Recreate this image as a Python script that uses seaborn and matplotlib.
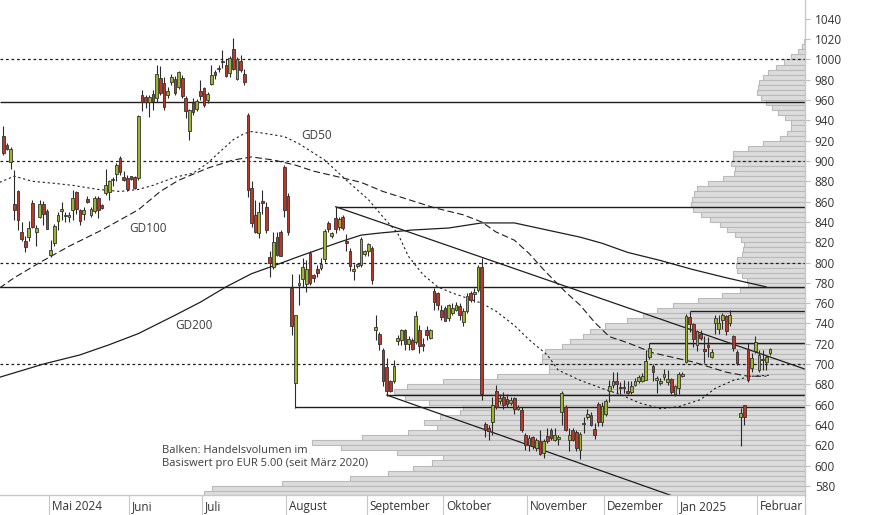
import numpy as np
import seaborn as sns
import matplotlib.pyplot as plt
from matplotlib.transforms import ScaledTranslation

# daily candles, trading-day index 0 = mid April 2024
opens = [
    925, 916, 899, 858, 870, 830, 821, 825, 859, 830,
    845, 858, 851, 807, 819, 841, 851, 846, 845, 852,
    869, 852, 848, 863, 847, 851, 864, 857, 868, 869,
    881, 887, 903, 884, 883, 885, 884, 883, 965, 963,
    958, 966, 962, 982, 977, 965, 978, 981, 973, 982,
    962, 930, 957, 951, 969, 972, 960, 976, 988, 991,
    998, 995, 987, 1010, 981, 999, 986, 945, 873, 847,
    829, 861, 855, 805, 796, 825, 830, 894, 866, 775,
    681, 778, 784, 779, 809, 788, 794, 795, 803, 839,
    826, 844, 835, 845, 821, 811, 792, 797, 798, 808,
    811, 814, 734, 730, 714, 697, 683, 683, 723, 724,
    734, 720, 724, 722, 734, 720, 734, 726, 772, 770,
    753, 755, 745, 750, 753, 757, 741, 752, 770, 769,
    773, 796, 641, 637, 643, 673, 664, 668, 666, 662,
    667, 656, 655, 630, 620, 628, 617, 624, 612, 629,
    635, 625, 626, 653, 658, 625, 635, 633, 615, 641,
    648, 650, 636, 661, 643, 651, 673, 679, 683, 677,
    676, 673, 672, 679, 683, 683, 684, 707, 698, 684,
    681, 687, 682, 685, 670, 676, 688, 702, 746, 739,
    719, 730, 715, 719, 707, 740, 735, 743, 747, 740,
    728, 712, 648, 660, 715, 696, 713, 694, 705, 702,
    711]
highs = [
    934, 918, 914, 891, 871, 840, 826, 841, 862, 837,
    862, 861, 853, 822, 838, 850, 860, 850, 850, 871,
    870, 853, 855, 866, 855, 866, 866, 858, 892, 881,
    884, 898, 905, 890, 886, 885, 885, 945, 970, 965,
    965, 970, 995, 994, 983, 973, 986, 984, 989, 985,
    964, 951, 962, 961, 980, 973, 968, 995, 990, 995,
    1009, 1000, 1003, 1021, 1002, 1004, 991, 947, 880, 862,
    860, 871, 860, 811, 830, 830, 832, 896, 868, 789,
    748, 789, 804, 802, 811, 789, 798, 804, 833, 841,
    830, 855, 845, 847, 828, 814, 799, 800, 825, 812,
    819, 816, 748, 732, 716, 706, 684, 704, 729, 735,
    735, 728, 726, 752, 738, 726, 737, 735, 775, 771,
    758, 757, 759, 760, 761, 760, 755, 770, 772, 775,
    798, 804, 643, 640, 668, 679, 670, 672, 670, 668,
    668, 660, 658, 632, 630, 629, 627, 635, 626, 637,
    637, 637, 630, 673, 660, 637, 637, 635, 633, 648,
    656, 653, 642, 663, 663, 666, 684, 692, 692, 682,
    684, 683, 683, 686, 689, 691, 714, 721, 700, 688,
    686, 695, 694, 686, 679, 692, 692, 749, 752, 740,
    734, 734, 728, 727, 715, 748, 748, 750, 748, 753,
    729, 714, 657, 660, 721, 711, 728, 714, 714, 709,
    716]
lows = [
    906, 911, 892, 842, 832, 821, 810, 821, 834, 816,
    844, 837, 833, 805, 816, 832, 842, 840, 840, 842,
    848, 837, 842, 859, 845, 849, 844, 853, 867, 862,
    875, 880, 886, 880, 870, 881, 872, 881, 949, 952,
    943, 950, 958, 965, 950, 962, 975, 965, 971, 962,
    942, 921, 945, 949, 960, 953, 957, 975, 981, 988,
    992, 983, 983, 990, 980, 988, 975, 865, 835, 829,
    824, 848, 829, 786, 794, 806, 806, 845, 827, 729,
    657, 758, 776, 771, 778, 781, 786, 793, 801, 830,
    824, 829, 832, 832, 811, 792, 783, 795, 796, 806,
    806, 779, 724, 714, 678, 669, 672, 681, 719, 719,
    714, 714, 714, 720, 711, 713, 724, 725, 753, 753,
    743, 742, 742, 748, 752, 743, 737, 750, 761, 761,
    771, 665, 628, 625, 630, 656, 661, 656, 658, 660,
    651, 655, 633, 615, 614, 616, 614, 610, 607, 622,
    625, 624, 620, 640, 634, 614, 624, 614, 606, 632,
    646, 639, 626, 639, 639, 649, 663, 676, 671, 670,
    671, 670, 670, 678, 681, 682, 684, 705, 683, 671,
    679, 684, 679, 670, 669, 670, 687, 701, 732, 717,
    713, 724, 701, 707, 706, 730, 730, 735, 729, 737,
    713, 699, 619, 640, 682, 692, 711, 692, 694, 694,
    709]
closes = [
    908, 912, 912, 852, 842, 823, 815, 834, 835, 834,
    858, 848, 833, 812, 836, 847, 853, 847, 847, 864,
    853, 841, 852, 860, 853, 864, 852, 854, 876, 880,
    882, 896, 889, 881, 872, 882, 873, 944, 958, 958,
    963, 959, 986, 967, 953, 969, 983, 967, 988, 964,
    949, 950, 948, 959, 964, 955, 966, 985, 985, 992,
    999, 984, 1001, 991, 1000, 990, 978, 871, 839, 830,
    850, 859, 832, 800, 820, 807, 806, 852, 830, 737,
    748, 780, 796, 794, 780, 785, 790, 799, 831, 833,
    829, 833, 843, 834, 819, 797, 794, 799, 823, 811,
    818, 783, 736, 720, 683, 673, 673, 698, 726, 734,
    720, 725, 715, 747, 718, 718, 729, 734, 761, 758,
    746, 742, 758, 755, 758, 748, 752, 767, 763, 771,
    796, 670, 635, 634, 660, 658, 667, 660, 661, 665,
    656, 658, 635, 620, 627, 619, 625, 611, 624, 624,
    627, 630, 628, 671, 635, 630, 625, 617, 631, 642,
    651, 640, 630, 643, 659, 664, 678, 683, 680, 676,
    677, 671, 678, 683, 687, 688, 703, 716, 692, 686,
    683, 690, 685, 672, 678, 690, 690, 747, 739, 725,
    733, 726, 713, 717, 712, 745, 740, 748, 733, 748,
    716, 701, 652, 648, 684, 706, 722, 709, 704, 707,
    715]

# moving averages
gd50_idx = [-1, 3, 8, 14, 19, 26, 32, 37, 41, 47, 52, 56, 59, 63, 66, 68, 72, 77, 81, 88,
            94, 100, 104, 108, 111, 115, 119, 123, 131, 135, 140, 144, 149, 152, 158, 164,
            169, 174, 180, 185, 191, 195, 200, 205, 210]
gd50_val = [879, 885, 880, 878, 876, 872, 870, 872, 876, 884, 888, 898, 908, 921, 927, 929,
            927, 924, 917, 901, 881, 862, 845, 829, 806, 788, 776, 770, 760, 752, 738, 724,
            709, 694, 684, 676, 670, 662, 656, 658, 665, 676, 684, 688, 689]
gd100_idx = [-1, 3, 10, 18, 27, 37, 43, 48, 56, 63, 68, 74, 80, 85, 91, 98, 104, 111, 118,
             126, 131, 135, 140, 144, 148, 154, 158, 162, 166, 171, 178, 189, 198, 204, 209]
gd100_val = [775, 785, 800, 816, 832, 852, 870, 881, 893, 901, 904, 901, 896, 890, 885, 879,
             870, 862, 854, 847, 840, 830, 822, 809, 793, 771, 758, 741, 727, 721, 711, 702,
             692, 688, 688]
gd200_idx = [-1, 11, 21, 29, 37, 47, 54, 61, 68, 75, 81, 92, 98, 103, 112, 122, 131, 140,
             149, 158, 164, 171, 180, 189, 198, 209]
gd200_val = [687, 700, 709, 719, 730, 748, 761, 776, 789, 798, 806, 820, 827, 829, 832, 834,
             839, 839, 832, 825, 819, 810, 802, 793, 785, 776]

# support / resistance lines
dotted_levels = [1000, 900, 800, 700]
solid_levels = [958, 776]
ray_start = [91, 188, 177, 105, 80]
ray_level = [855, 752, 721, 669.5, 657.5]
trend_idx = [[91, 219.6], [105, 219.6]]
trend_val = [[855, 695], [669.5, 524]]

# volume profile, 5 EUR bins (lower edge), top to bottom
vol_bins = list(range(1015, 565, -5))
volume = [0.7, 3.3, 6.7, 14, 20.7, 29.3, 36.7, 41.7, 45.7, 46.7,
          47.7, 43.7, 38.7, 32.7, 26.7, 19.7, 13.7, 13.7, 17.7, 25,
          41.7, 56.7, 71.7, 71.7, 73.7, 69.7, 70.7, 81.7, 96.7, 107.7,
          110.7, 112.7, 113.7, 111.7, 103.7, 94.7, 84.7, 77.7, 69.7, 63.7,
          60.7, 61.7, 63, 68.3, 69.3, 68.3, 63.3, 58.3, 56.7, 65,
          83.3, 106.7, 132.3, 148.3, 162.3, 178.3, 200, 215, 222, 235,
          243, 260, 263, 263, 256, 256, 308, 362, 398, 411,
          400, 376, 342, 345, 365, 381, 368, 397, 443, 493,
          464, 408, 362, 373, 392, 417, 455, 523, 593, 601]

month_ticks = [12.5, 34.5, 54.5, 77.5, 99.5, 120.5, 143.5, 164.5, 184.5, 206.5]
month_labels = ["Mai 2024", "Juni", "Juli", "August", "September", "Oktober",
                "November", "Dezember", "Jan 2025", "Februar"]

sns.set_theme(style="white")
plt.rcParams['font.family'] = ['Open Sans', 'DejaVu Sans']

fig = plt.figure(figsize=(8.74, 5.15), dpi=100)
ax = fig.add_axes([0, 20 / 515, 805 / 874, 495 / 515])
ax_vol = ax.twiny()

ax_vol.barh(vol_bins, volume, height=5, align="edge", color="#dcdcdc",
            edgecolor="#b9b9b9", linewidth=0.8)
ax_vol.set_xlim(805, 0)
ax_vol.axis("off")
ax.set_zorder(ax_vol.get_zorder() + 1)
ax.patch.set_visible(False)

ax.set_xlim(-0.9, 219.6)
ax.set_ylim(571, 1058.6)

line_col = "#1e1e1e"
ax.hlines(dotted_levels, -0.9, 219.6, colors=line_col, linewidth=0.9,
          linestyles=(0, (2.2, 2.2)), zorder=2)
ax.hlines(solid_levels, -0.9, 219.6, colors=line_col, linewidth=1.0, zorder=2)
ax.hlines(ray_level, ray_start, 219.6, colors=line_col, linewidth=1.0, zorder=2)
for xs, ys in zip(trend_idx, trend_val):
    ax.plot(xs, ys, color=line_col, linewidth=0.9, zorder=2)

sns.lineplot(x=gd50_idx, y=gd50_val, ax=ax, color=line_col, linewidth=0.8,
             linestyle=(0, (2, 2.5)), zorder=2)
sns.lineplot(x=gd100_idx, y=gd100_val, ax=ax, color=line_col, linewidth=0.8,
             linestyle=(0, (6, 3)), zorder=2)
sns.lineplot(x=gd200_idx, y=gd200_val, ax=ax, color=line_col, linewidth=0.9, zorder=2)

# candles
o = np.array(opens, dtype=float)
h = np.array(highs, dtype=float)
l = np.array(lows, dtype=float)
c = np.array(closes, dtype=float)
idx = np.arange(len(o))
up = c >= o
ax.vlines(idx, l, h, color="#2a2a2a", linewidth=0.8, zorder=4)
ax.bar(idx[up], np.maximum(c - o, 0.8)[up], bottom=o[up], width=0.75,
       color="#9cb52a", edgecolor="#333333", linewidth=0.6, zorder=5)
ax.bar(idx[~up], (o - c)[~up], bottom=c[~up], width=0.75,
       color="#bf3626", edgecolor="#333333", linewidth=0.6, zorder=5)

txt_col = "#3c3c3c"
ax.text(81.5, 925, "GD50", fontsize=8.5, color=txt_col, va="center", ha="left")
ax.text(34.5, 834, "GD100", fontsize=8.5, color=txt_col, va="center", ha="left")
ax.text(47.2, 738, "GD200", fontsize=8.5, color=txt_col, va="center", ha="left")
ax.text(43.4, 620.5, "Balken: Handelsvolumen im\nBasiswert pro EUR 5.00 (seit März 2020)",
        fontsize=8, color=txt_col, va="top", ha="left", linespacing=1.3)

# axes styling
for side in ["left", "top"]:
    ax.spines[side].set_visible(False)
for side in ["right", "bottom"]:
    ax.spines[side].set_visible(True)
    ax.spines[side].set_color("#c8c8c8")
    ax.spines[side].set_linewidth(1.0)

ax.yaxis.tick_right()
ax.set_yticks(range(580, 1041, 20))
ax.tick_params(axis="y", right=True, length=3.6, width=0.8, color="#c0c0c0",
               labelsize=8.5, labelcolor="#333333", pad=3.5)
ax.set_xticks(month_ticks)
ax.set_xticklabels(month_labels, ha="left")
ax.tick_params(axis="x", bottom=True, length=14.5, width=0.8, color="#c8c8c8",
               labelsize=8.5, labelcolor="#333333", pad=-11)
shift = ScaledTranslation(3 / 100, 0, fig.dpi_scale_trans)
for lbl in ax.get_xticklabels():
    lbl.set_transform(lbl.get_transform() + shift)
ax.set_xlabel("")
ax.set_ylabel("")
ax.grid(False)

fig.add_artist(plt.Line2D([805 / 874, 805 / 874], [0, 20 / 515], color="#c8c8c8",
                          linewidth=1.0))

fig.savefig("out.png", dpi=100, facecolor="white")
